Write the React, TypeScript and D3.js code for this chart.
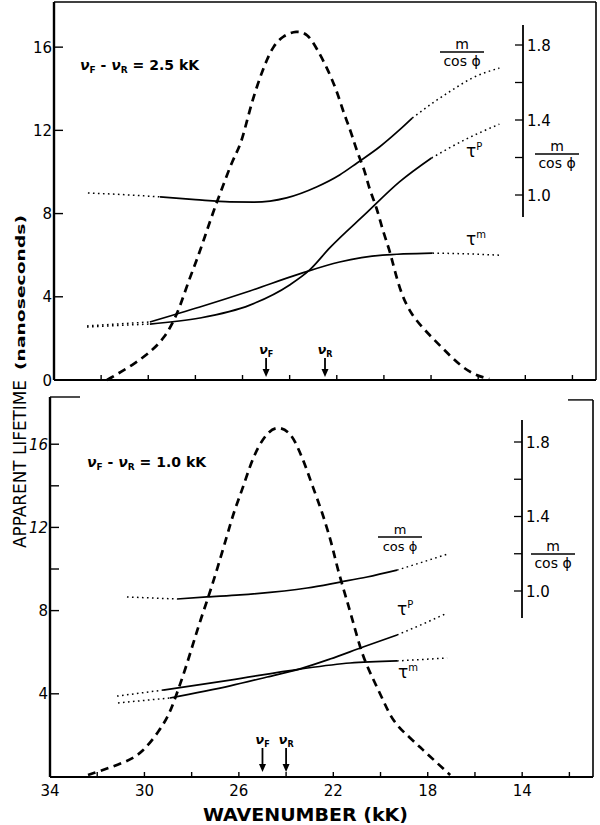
import React from 'react';
import * as d3 from 'd3';

// ---------- Top panel (νF − νR = 2.5 kK) ----------
const topAbsK = [31.75, 30.65, 29.8, 29.3, 28.96, 28.66, 28.32, 27.94, 27.6, 27.26, 26.84, 26.42, 26.12, 25.91, 25.69, 25.48, 25.19, 24.97, 24.72, 24.3, 23.7, 23.24, 22.86, 22.43, 22.01, 21.75, 21.54, 21.33, 21.12, 20.82, 20.61, 20.31, 20.06, 19.76, 19.55, 19.25, 18.83, 18.2, 17.52, 16.8, 16.16, 15.53];
const topAbsV = [0, 0.72, 1.44, 2.07, 2.74, 3.51, 4.66, 5.77, 6.88, 8.03, 9.3, 10.58, 11.2, 12.02, 12.98, 13.8, 14.76, 15.38, 16.0, 16.55, 16.8, 16.65, 15.96, 15.05, 13.94, 12.98, 12.36, 11.68, 10.91, 10.1, 9.13, 8.32, 7.21, 6.25, 5.29, 4.09, 3.13, 2.31, 1.54, 0.72, 0.24, 0.05];

const topMcosK = [32.56, 30.78, 29.5, 28.0, 26.54, 25.5, 24.13, 22.86, 21.88, 21.14, 20.19, 19.34, 18.8, 17.94, 17.1, 16.25, 15.1];
const topMcosV = [1.011, 1.0, 0.99, 0.975, 0.963, 0.962, 0.985, 1.043, 1.107, 1.171, 1.256, 1.347, 1.41, 1.49, 1.56, 1.624, 1.677];
const topMcosSolid = [29.5, 18.8];

const topTauPK = [32.6, 29.93, 27.81, 25.69, 24.0, 23.15, 22.3, 20.74, 19.34, 17.98, 16.58, 15.1];
const topTauPV = [2.55, 2.69, 2.98, 3.6, 4.57, 5.29, 6.35, 8.03, 9.52, 10.67, 11.54, 12.3];
const topTauPSolid = [29.93, 17.98];

const topTauMK = [32.6, 29.93, 27.81, 25.69, 23.58, 21.88, 20.06, 17.94, 16.37, 15.1];
const topTauMV = [2.6, 2.79, 3.51, 4.28, 5.1, 5.67, 6.0, 6.1, 6.06, 6.0];
const topTauMSolid = [29.93, 17.94];

const topNuF = 25.0;
const topNuR = 22.5;

// ---------- Bottom panel (νF − νR = 1.0 kK) ----------
const botAbsK = [32.39, 30.74, 30.06, 29.34, 28.92, 28.62, 28.28, 27.94, 27.64, 27.22, 26.92, 26.5, 26.2, 25.86, 25.55, 25.2, 24.8, 24.38, 23.83, 23.49, 23.19, 22.9, 22.47, 22.05, 21.84, 21.58, 21.37, 21.16, 20.78, 20.36, 19.89, 19.47, 18.75, 18.2, 17.6, 17.05];
const botAbsV = [0.1, 0.72, 1.2, 2.26, 3.08, 4.04, 5.14, 6.4, 7.5, 8.9, 10.0, 11.6, 12.8, 13.8, 14.9, 15.85, 16.55, 16.88, 16.6, 15.82, 15.0, 14.04, 12.74, 11.15, 10.1, 9.09, 8.27, 7.45, 5.87, 4.81, 3.7, 2.64, 1.88, 1.3, 0.67, 0.1];

const botMcosK = [30.74, 28.62, 27.35, 25.95, 23.11, 21.71, 20.57, 19.3, 17.18];
const botMcosV = [0.968, 0.957, 0.968, 0.979, 1.016, 1.048, 1.075, 1.112, 1.197];
const botMcosSolid = [28.62, 19.3];

const botTauPK = [31.12, 28.92, 26.37, 24.8, 23.41, 22.14, 20.74, 19.3, 18.32, 17.18];
const botTauPV = [3.56, 3.8, 4.38, 4.81, 5.2, 5.67, 6.25, 6.83, 7.3, 7.88];
const botTauPSolid = [28.92, 19.3];

const botTauMK = [31.16, 29.21, 26.37, 23.41, 21.29, 19.3, 17.18];
const botTauMV = [3.89, 4.18, 4.66, 5.19, 5.48, 5.58, 5.72];
const botTauMSolid = [29.21, 19.3];

const botNuF = 25.0;
const botNuR = 24.0;

// ---------- Ticks ----------
const xMinorTicks = [32, 30, 28, 26, 24, 22, 20, 18, 16, 14, 12];
const xTickLabels = [34, 30, 26, 22, 18, 14];
const yTopTicks = [16, 12, 8, 4];
const yTopLabels = [16, 12, 8, 4, 0];
const yBotTicks = [16, 14, 12, 10, 8, 4];
const yBotLabels = [16, 12, 8, 4];
const rTicks = [1.0, 1.2, 1.4, 1.6, 1.8];
const rLabels = [1.0, 1.4, 1.8];

type Pt = [number, number];

function split(ks: number[], vs: number[], solid: number[]) {
  const pts: Pt[] = ks.map((k, i) => [k, vs[i]]);
  const pre = pts.filter((p) => p[0] >= solid[0]);
  const mid = pts.filter((p) => p[0] <= solid[0] && p[0] >= solid[1]);
  const post = pts.filter((p) => p[0] <= solid[1]);
  return { pre, mid, post };
}

const FONT = "'DejaVu Sans', 'Liberation Sans', sans-serif";

function Curve({ ks, vs, solid, x, y }: any) {
  const { pre, mid, post } = split(ks, vs, solid);
  const line = d3
    .line<Pt>()
    .x((d) => x(d[0]))
    .y((d) => y(d[1]))
    .curve(d3.curveMonotoneX);
  const dot = { fill: 'none', stroke: '#000', strokeWidth: 1.5, strokeDasharray: '1.6 3.4' };
  return (
    <g>
      {pre.length > 1 && <path d={line(pre) || ''} {...dot} />}
      <path d={line(mid) || ''} fill="none" stroke="#000" strokeWidth={1.7} />
      {post.length > 1 && <path d={line(post) || ''} {...dot} />}
    </g>
  );
}

function AbsCurve({ ks, vs, x, y }: any) {
  const pts: Pt[] = ks.map((k: number, i: number) => [k, vs[i]]);
  const line = d3
    .line<Pt>()
    .x((d) => x(d[0]))
    .y((d) => y(d[1]))
    .curve(d3.curveBasis);
  return <path d={line(pts) || ''} fill="none" stroke="#000" strokeWidth={2.7} strokeDasharray="8 5.5" />;
}

function Frac({ cx, y, size }: any) {
  return (
    <g fontFamily={FONT} fontSize={size} textAnchor="middle" fill="#000">
      <text x={cx} y={y}>m</text>
      <line x1={cx - 22} x2={cx + 22} y1={y + 3} y2={y + 3} stroke="#000" strokeWidth={1.3} />
      <text x={cx} y={y + 17}>cos ϕ</text>
    </g>
  );
}

function Tau({ x, y, sup }: any) {
  return (
    <text x={x} y={y} fontFamily={FONT} fontSize={17} fill="#000">
      τ
      <tspan dy={-7} fontSize={10}>{sup}</tspan>
    </text>
  );
}

function NuLabel({ x, y, text, size }: any) {
  const sub = size * 0.62;
  return (
    <text x={x} y={y} fontFamily={FONT} fontSize={size} fontWeight="bold" fill="#000" textAnchor="middle">
      <tspan fontStyle="italic">ν</tspan>
      <tspan dy={3} fontSize={sub}>{text}</tspan>
    </text>
  );
}

function Arrow({ x, y1, y2 }: any) {
  return (
    <g>
      <line x1={x} x2={x} y1={y1} y2={y2 - 6} stroke="#000" strokeWidth={1.8} />
      <path d={`M${x - 3.5},${y2 - 8} L${x + 3.5},${y2 - 8} L${x},${y2} Z`} fill="#000" />
    </g>
  );
}

function Annot({ x, y, value }: any) {
  return (
    <text x={x} y={y} fontFamily={FONT} fontSize={14} fontWeight="bold" fill="#000">
      <tspan fontStyle="italic">ν</tspan>
      <tspan dy={3} fontSize={9}>F</tspan>
      <tspan dy={-3}> - </tspan>
      <tspan fontStyle="italic">ν</tspan>
      <tspan dy={3} fontSize={9}>R</tspan>
      <tspan dy={-3}>{` = ${value} kK`}</tspan>
    </text>
  );
}

export default function App() {
  const xTop = d3.scaleLinear().domain([34, 11]).range([54, 596]);
  const yTop = d3.scaleLinear().domain([0, 18.17]).range([380, 2]);
  const rTop = d3.scaleLinear().domain([1.0, 1.8]).range([195, 45]);
  const xBot = d3.scaleLinear().domain([34, 11]).range([50, 593]);
  const yBot = d3.scaleLinear().domain([0, 18.27]).range([777, 397]);
  const rBot = d3.scaleLinear().domain([1.0, 1.8]).range([591, 442]);

  const rAxisTopX = 523;
  const rAxisBotX = 522;

  return (
    <svg width={600} height={825} style={{ position: 'absolute', left: 0, top: 0, background: '#fff' }}>
      <rect x={0} y={0} width={600} height={825} fill="#fff" />

      {/* ================= TOP PANEL ================= */}
      <g>
        <line x1={xTop(34)} x2={xTop(34)} y1={yTop(18.17)} y2={yTop(0)} stroke="#000" strokeWidth={2.4} />
        <line x1={xTop(34)} x2={xTop(11)} y1={yTop(18.17)} y2={yTop(18.17)} stroke="#000" strokeWidth={1.4} />
        <line x1={xTop(11)} x2={xTop(11)} y1={yTop(18.17)} y2={yTop(0)} stroke="#000" strokeWidth={1.6} />
        <line x1={xTop(34)} x2={xTop(11)} y1={yTop(0)} y2={yTop(0)} stroke="#000" strokeWidth={2} />
        {xMinorTicks.map((t) => (
          <line key={t} x1={xTop(t)} x2={xTop(t)} y1={yTop(0)} y2={yTop(0) - 5} stroke="#000" strokeWidth={1.4} />
        ))}
        {yTopTicks.map((t) => (
          <line key={t} x1={xTop(34)} x2={xTop(34) + 9} y1={yTop(t)} y2={yTop(t)} stroke="#000" strokeWidth={1.4} />
        ))}
        {yTopLabels.map((t) => (
          <text key={t} x={xTop(34) - 2} y={yTop(t) + 5.5} textAnchor="end" fontFamily={FONT} fontSize={15} fill="#000">
            {t}
          </text>
        ))}

        <line x1={rAxisTopX} x2={rAxisTopX} y1={rTop(1.907)} y2={rTop(0.883)} stroke="#000" strokeWidth={1.8} />
        {rTicks.map((t) => (
          <line key={t} x1={rAxisTopX - 8} x2={rAxisTopX} y1={rTop(t)} y2={rTop(t)} stroke="#000" strokeWidth={1.3} />
        ))}
        {rLabels.map((t) => (
          <text key={t} x={rAxisTopX + 4} y={rTop(t) + 5.5} fontFamily={FONT} fontSize={15} fill="#000">
            {t.toFixed(1)}
          </text>
        ))}
        <Frac cx={557} y={151} size={14} />

        <AbsCurve ks={topAbsK} vs={topAbsV} x={xTop} y={yTop} />
        <Curve ks={topMcosK} vs={topMcosV} solid={topMcosSolid} x={xTop} y={rTop} />
        <Curve ks={topTauPK} vs={topTauPV} solid={topTauPSolid} x={xTop} y={yTop} />
        <Curve ks={topTauMK} vs={topTauMV} solid={topTauMSolid} x={xTop} y={yTop} />

        <Frac cx={462} y={49} size={14} />
        <Tau x={466} y={157} sup="P" />
        <Tau x={466} y={245} sup="m" />
        <Annot x={80} y={70} value="2.5" />

        <NuLabel x={xTop(topNuF)} y={354} text="F" size={13} />
        <Arrow x={xTop(topNuF)} y1={358} y2={377} />
        <NuLabel x={xTop(topNuR)} y={354} text="R" size={13} />
        <Arrow x={xTop(topNuR)} y1={358} y2={377} />
      </g>

      {/* ================= BOTTOM PANEL ================= */}
      <g>
        <line x1={xBot(34)} x2={xBot(34)} y1={yBot(18.27)} y2={yBot(0)} stroke="#000" strokeWidth={2.4} />
        <line x1={xBot(34)} x2={xBot(34) + 30} y1={yBot(18.27)} y2={yBot(18.27)} stroke="#000" strokeWidth={1.4} />
        <line x1={xBot(11) - 25} x2={xBot(11)} y1={yBot(18.13)} y2={yBot(18.13)} stroke="#000" strokeWidth={1.4} />
        <line x1={xBot(11)} x2={xBot(11)} y1={yBot(18.13)} y2={yBot(0)} stroke="#000" strokeWidth={1.6} />
        <line x1={xBot(34)} x2={xBot(11)} y1={yBot(0)} y2={yBot(0)} stroke="#000" strokeWidth={2} />
        {xMinorTicks.map((t) => (
          <line key={t} x1={xBot(t)} x2={xBot(t)} y1={yBot(0)} y2={yBot(0) - 5} stroke="#000" strokeWidth={1.4} />
        ))}
        {xTickLabels.map((t) => (
          <text key={t} x={xBot(t)} y={796} textAnchor="middle" fontFamily={FONT} fontSize={15} fill="#000">
            {t}
          </text>
        ))}
        {yBotTicks.map((t) => (
          <line key={t} x1={xBot(34)} x2={xBot(34) + 9} y1={yBot(t)} y2={yBot(t)} stroke="#000" strokeWidth={1.4} />
        ))}
        {yBotLabels.map((t) => (
          <text key={t} x={xBot(34) - 2} y={yBot(t) + 5.5} textAnchor="end" fontFamily={FONT} fontSize={15} fontStyle={t >= 12 ? 'italic' : 'normal'} fill="#000">
            {t}
          </text>
        ))}

        <line x1={rAxisBotX} x2={rAxisBotX} y1={rBot(1.918)} y2={rBot(0.855)} stroke="#000" strokeWidth={1.8} />
        {rTicks.map((t) => (
          <line key={t} x1={rAxisBotX - 8} x2={rAxisBotX} y1={rBot(t)} y2={rBot(t)} stroke="#000" strokeWidth={1.3} />
        ))}
        {rLabels.map((t) => (
          <text key={t} x={rAxisBotX + 4} y={rBot(t) + 5.5} fontFamily={FONT} fontSize={15} fill="#000">
            {t.toFixed(1)}
          </text>
        ))}
        <Frac cx={553} y={551} size={14} />

        <AbsCurve ks={botAbsK} vs={botAbsV} x={xBot} y={yBot} />
        <Curve ks={botMcosK} vs={botMcosV} solid={botMcosSolid} x={xBot} y={rBot} />
        <Curve ks={botTauPK} vs={botTauPV} solid={botTauPSolid} x={xBot} y={yBot} />
        <Curve ks={botTauMK} vs={botTauMV} solid={botTauMSolid} x={xBot} y={yBot} />

        <Frac cx={400} y={534} size={13} />
        <Tau x={397} y={615} sup="P" />
        <Tau x={398} y={678} sup="m" />
        <Annot x={87} y={467} value="1.0" />

        <NuLabel x={xBot(botNuF)} y={744} text="F" size={13} />
        <Arrow x={xBot(botNuF)} y1={748} y2={772} />
        <NuLabel x={xBot(botNuR)} y={744} text="R" size={13} />
        <Arrow x={xBot(botNuR)} y1={748} y2={772} />
      </g>

      <text x={203} y={821} fontFamily={FONT} fontSize={17} fontWeight="bold" fill="#000" textLength={205} lengthAdjust="spacingAndGlyphs">
        WAVENUMBER (kK)
      </text>
      <g transform="translate(26,548) rotate(-90)">
        <text x={0} y={0} fontFamily={FONT} fontSize={17} fill="#000" textLength={168} lengthAdjust="spacingAndGlyphs">
          APPARENT  LIFETIME
        </text>
        <text x={178} y={-1} fontFamily={FONT} fontSize={13} fontWeight="bold" fill="#000" textLength={155} lengthAdjust="spacingAndGlyphs">
          (nanoseconds)
        </text>
      </g>
    </svg>
  );
}
